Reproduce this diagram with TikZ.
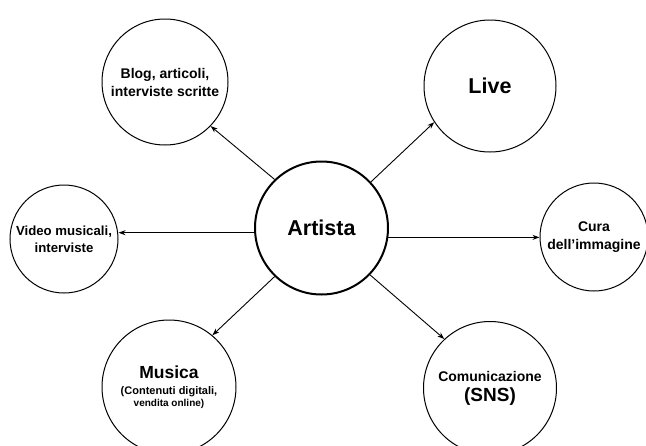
\documentclass[tikz,border=0pt]{standalone}
\usepackage{fontspec}
\setmainfont{Liberation Sans}
\usetikzlibrary{arrows.meta}
\begin{document}
\begin{tikzpicture}[x=1pt,y=-1pt,
  bubble/.style={circle,draw=black,line width=1pt,inner sep=0pt,align=center,font=\bfseries},
  link/.style={line width=0.9pt,-{Stealth[length=7pt,width=5pt]}}]
\useasboundingbox (0,0) rectangle (646,445);
\node[bubble,line width=2pt,minimum size=133pt,font=\bfseries\fontsize{21.5}{25}\selectfont] (art) at (321.5,228) {Artista};
\node[bubble,minimum size=126pt,font=\bfseries\fontsize{14}{18}\selectfont] (blog) at (165,82) {Blog, articoli,\\interviste scritte};
\node[bubble,minimum size=132pt,font=\bfseries\fontsize{21.5}{25}\selectfont] (live) at (490,86) {Live};
\node[bubble,minimum size=108pt,font=\bfseries\fontsize{13.2}{17}\selectfont] (vid) at (64,239) {Video musicali,\\interviste};
\node[bubble,minimum size=108pt,font=\bfseries\fontsize{14}{18}\selectfont] (cura) at (594,237) {Cura\\dell’immagine};
\node[bubble,minimum size=134pt,font=\bfseries] (mus) at (169,387) {\fontsize{17.5}{20}\selectfont Musica\\[4pt]\fontsize{11}{13}\selectfont (Contenuti digitali,\\vendita online)};
\node[bubble,minimum size=133pt,font=\bfseries] (com) at (490,388) {\fontsize{14}{17}\selectfont Comunicazione\\[5pt]\fontsize{19}{21}\selectfont (SNS)};
\draw[link] (art.134) -- (blog.-44);
\draw[link] (art.43.5) -- (live.213);
\draw[link] (art.184) -- (art.184 -| vid.east);
\draw[link] (art.-8) -- (art.-8 -| cura.west);
\draw[link] (art.226) -- (mus.50);
\draw[link] (art.-44) -- (com.133);
\end{tikzpicture}
\end{document}
